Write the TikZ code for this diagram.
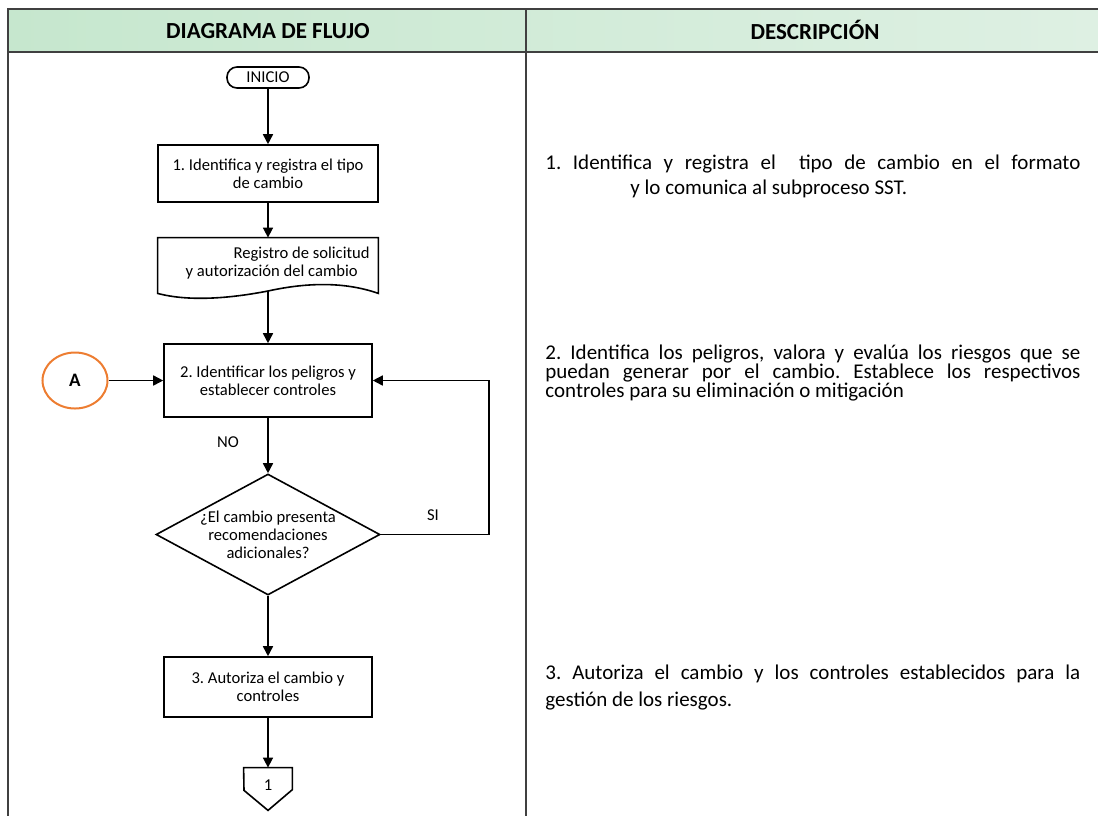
\documentclass[tikz,border=0pt]{standalone}
\usepackage{fontspec}
\setmainfont{Carlito}
\usetikzlibrary{shapes.geometric,arrows.meta}
\definecolor{verde}{RGB}{198,231,206}
\definecolor{verdeclaro}{RGB}{222,240,227}
\definecolor{naranja}{RGB}{237,125,49}
\definecolor{marco}{RGB}{64,64,64}

\begin{document}
\frenchspacing
\begin{tikzpicture}[x=0.5pt,y=-0.5pt,
  caja/.style={draw,line width=0.8pt,minimum width=104pt,minimum height=36.5pt,inner sep=2pt,align=center,font=\fontsize{8.3}{9}\selectfont},
  flecha/.style={line width=0.8pt,-{Triangle[length=5pt,width=5pt]}},
  etiq/.style={font=\fontsize{8.3}{9}\selectfont},
  desc/.style={anchor=west,text width=267.5pt,align=justify,inner sep=0pt}]
\useasboundingbox (0,0) rectangle (1098,816);
\shade[left color=verde,right color=verdeclaro] (8,9) rectangle (1098,52);
\draw[marco,line width=1pt] (1098,9) -- (8,9) -- (8,816);
\draw[marco,line width=1pt] (8,52) -- (1098,52);
\draw[marco,line width=1pt] (526,9) -- (526,816);
\node[font=\fontsize{11.5}{13}\selectfont\bfseries] (tit1) at (268,31) {DIAGRAMA DE FLUJO};
\node[font=\fontsize{11.5}{13}\selectfont\bfseries] (tit2) at (815,30) {DESCRIPCIÓN};
\node[draw,rounded corners=5pt,line width=0.8pt,minimum width=41pt,minimum height=10.5pt,inner sep=0pt,etiq] (inicio) at (268,77.5) {INICIO};
\node[caja,minimum width=110pt,minimum height=28.5pt] (p1) at (268,173.5) {1. Identifica y registra el tipo\\de cambio};
\node[minimum width=110pt,minimum height=27.5pt,inner sep=0pt] (doc) at (268,265.5) {};
\draw[line width=0.8pt] (doc.south west) -- (doc.north west) -- (doc.north east) -- (doc.south east) .. controls (340,280) and (300,284) .. (268,291) .. controls (232,298) and (190,302) .. (doc.south west) -- cycle;
\node[anchor=east,align=right,inner sep=0pt,etiq] (doctxt) at (370,263) {Registro de solicitud\\y autorización del cambio\hspace*{6pt}};
\coordinate (docbot) at (268,291);
\node[ellipse,draw=naranja,line width=1pt,minimum width=32.5pt,minimum height=28pt,font=\fontsize{9.5}{10}\selectfont\bfseries] (a) at (75,380.5) {A};
\node[caja] (p2) at (268,380.5) {2. Identificar los peligros y\\establecer controles};
\node[diamond,draw,line width=0.8pt,minimum width=112pt,minimum height=60.5pt,inner sep=0pt,shape aspect=1.85,align=center,etiq] (d) at (268,534.5) {¿El cambio presenta\\recomendaciones\\adicionales?};
\node[caja,minimum height=30pt] (p3) at (268,687) {3. Autoriza el cambio y\\controles};
\node[minimum width=24pt,minimum height=21pt,inner sep=0pt] (fin) at (268,789) {};
\draw[line width=0.8pt] (fin.south) -- ++(-24,-20) -- (fin.north west) -- (fin.north east) -- ++(0,22) -- cycle;
\node[etiq] (finlbl) at (268,785) {1};
\node[etiq] (no) at (228,442) {NO};
\node[etiq] (si) at (433,515) {SI};
\draw[flecha] (inicio) -- (p1);
\draw[flecha] (p1) -- (doc);
\draw[flecha] (docbot) -- (p2);
\draw[flecha] (a) -- (p2);
\draw[flecha] (p2) -- (d);
\draw[flecha] (d.east) -- ++(108,0) |- (p2.east);
\draw[flecha] (d) -- (p3);
\draw[flecha] (p3) -- (fin);
\node[desc,font=\fontsize{10.5}{12.5}\selectfont] (d1) at (545,176.5) {1. Identifica y registra el \ tipo de cambio en el formato\linebreak\hspace*{42.5pt}y lo comunica al subproceso SST.};
\node[desc,font=\fontsize{10.5}{9.3}\selectfont] (d2) at (545,373) {2. Identifica los peligros, valora y evalúa los riesgos que se\linebreak puedan generar por el cambio. Establece los respectivos\linebreak controles para su eliminación o mitigación};
\node[desc,font=\fontsize{10.5}{13.5}\selectfont] (d3) at (545,687.5) {3. Autoriza el cambio y los controles establecidos para la\linebreak gestión de los riesgos.};
\end{tikzpicture}
\end{document}
